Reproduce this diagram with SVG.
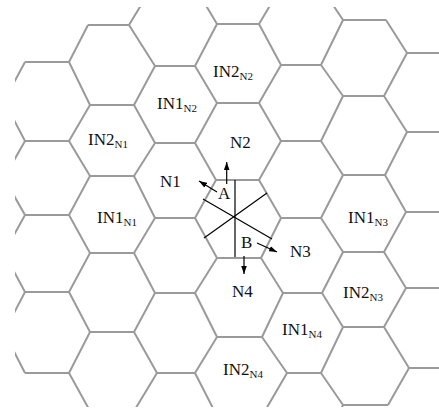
<svg xmlns="http://www.w3.org/2000/svg" width="439" height="411" viewBox="0 0 439 411">
<defs>
<clipPath id="frame"><rect x="15" y="7" width="430" height="400"/></clipPath>
<marker id="ah" viewBox="0 0 10 7" refX="10" refY="3.5" markerWidth="8" markerHeight="5.6" orient="auto" markerUnits="userSpaceOnUse"><path d="M0,0 L10,3.5 L0,7 z" fill="#000"/></marker>
</defs>
<style>
.g{fill:none;stroke:#9a9a9a;stroke-width:2;stroke-linejoin:miter}
.k{fill:none;stroke:#000;stroke-width:1.2}
.a{fill:none;stroke:#000;stroke-width:1.2;marker-end:url(#ah)}
text{font-family:"Liberation Serif","Times New Roman",serif;font-size:17px;fill:#111}
.s{font-size:11px}
</style>
<rect width="439" height="411" fill="#fff"/>
<g id="grid" clip-path="url(#frame)" class="g">
<path d="M25,62H69 M25,141H69 M25,215H69 M25,292H69 M25,373H69"/>
<path d="M88,25H129 M90,105H134 M90,176H134 M90,253H134 M90,332H134"/>
<path d="M155,66H195 M155,143H195 M155,218H195 M155,293H195 M157,373H195"/>
<path d="M217,24H259 M217,103H259 M216,180H259 M217,258H261 M217,337H262"/>
<path d="M281,65H321 M281,141H321 M281,218H321 M283,293H322 M287,373H321"/>
<path d="M343,20H386 M343,96H384 M343,175H385 M343,252H384 M343,327H384 M343,405H388"/>
<path d="M407,53H445 M407,132H445 M406,212H445 M406,288H445 M409,368H445"/>
<polyline points="25,62 4,101 25,141 4,178 25,215 4,253 25,292 4,332 25,373"/>
<polyline points="88,25 69,62 90,105 69,141 90,176 69,215 90,253 69,292 90,332 69,373 90,411"/>
<polyline points="152,-13 129,25 155,66 134,105 155,143 134,176 155,218 134,253 155,293 134,332 157,373 134,411"/>
<polyline points="195,-13 217,24 195,66 217,103 195,143 216,180 195,218 217,258 195,293 217,337 195,373 217,416"/>
<polyline points="281,-13 259,24 281,65 259,103 281,141 259,180 281,218 261,258 283,293 262,337 287,373 262,416"/>
<polyline points="321,-13 343,20 321,65 343,96 321,141 343,175 321,218 343,252 322,293 343,327 321,373 343,405 321,452"/>
<polyline points="386,20 407,53 384,96 407,132 385,175 406,212 384,252 406,288 384,327 409,368 388,405"/>
</g>
<g id="connectors">
<line class="k" x1="235" y1="180" x2="235" y2="257"/>
<line class="k" x1="203" y1="199" x2="272" y2="239"/>
<line class="k" x1="204" y1="238" x2="267" y2="193"/>
<line class="a" x1="226.7" y1="184" x2="226.7" y2="162"/>
<line class="a" x1="217" y1="192" x2="199" y2="181"/>
<line class="a" x1="244" y1="256" x2="244" y2="274"/>
<line class="a" x1="257" y1="243" x2="277" y2="252"/>
</g>
<g id="IN2_N2"><text x="213" y="77">IN2<tspan class="s" dy="3">N2</tspan></text></g>
<g id="IN1_N2"><text x="157" y="109">IN1<tspan class="s" dy="3">N2</tspan></text></g>
<g id="IN2_N1"><text x="88" y="145">IN2<tspan class="s" dy="3">N1</tspan></text></g>
<g id="N2"><text x="230" y="148">N2</text></g>
<g id="N1"><text x="160" y="187">N1</text></g>
<g id="IN1_N1"><text x="97" y="223">IN1<tspan class="s" dy="3">N1</tspan></text></g>
<g id="IN1_N3"><text x="348" y="223">IN1<tspan class="s" dy="3">N3</tspan></text></g>
<g id="N3"><text x="290" y="257">N3</text></g>
<g id="N4"><text x="232" y="297">N4</text></g>
<g id="IN2_N3"><text x="343" y="298">IN2<tspan class="s" dy="3">N3</tspan></text></g>
<g id="IN1_N4"><text x="282" y="335">IN1<tspan class="s" dy="3">N4</tspan></text></g>
<g id="IN2_N4"><text x="223" y="375">IN2<tspan class="s" dy="3">N4</tspan></text></g>
<g id="A"><text x="218" y="199">A</text></g>
<g id="B"><text x="241" y="248">B</text></g>
</svg>
